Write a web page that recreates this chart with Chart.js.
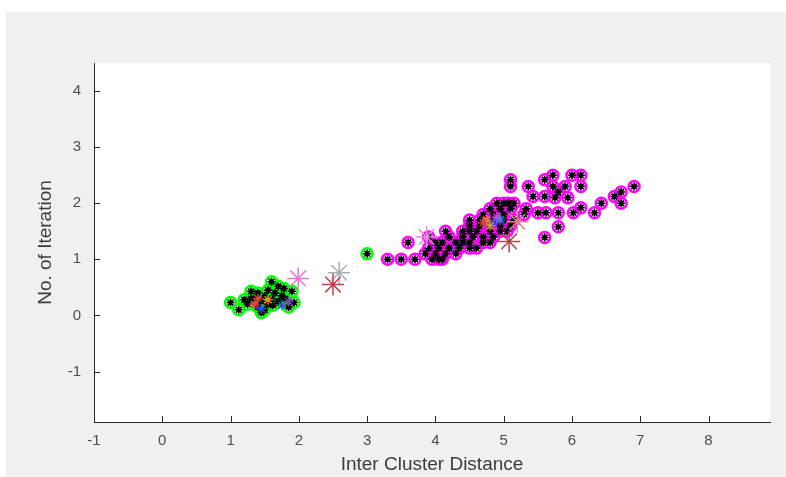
<!DOCTYPE html>
<html>
<head>
<meta charset="utf-8">
<script src="https://cdn.jsdelivr.net/npm/chart.js@4.4.0/dist/chart.umd.min.js"></script>
<style>
  html, body { margin: 0; padding: 0; background: #fff; }
  #wrap { position: relative; width: 786px; height: 477px; }
</style>
</head>
<body>
<div id="wrap"><canvas id="chart" width="786" height="477"></canvas></div>
<script>
// axis ticks
const xTicks = [-1, 0, 1, 2, 3, 4, 5, 6, 7, 8];
const yTicks = [-1, 0, 1, 2, 3, 4];

// cluster 1 (green)
const cluster1X = [1.0, 1.12, 1.3, 1.6, 1.7, 1.9, 1.93, 1.25, 1.35, 1.4, 1.45, 1.5, 1.55, 1.6, 1.65, 1.7, 1.75, 1.8, 1.5, 1.4, 1.55, 1.3, 1.85, 1.62, 1.45, 1.2, 1.78, 3.0];
const cluster1Y = [0.23, 0.1, 0.43, 0.6, 0.52, 0.43, 0.23, 0.2, 0.3, 0.15, 0.25, 0.35, 0.2, 0.3, 0.4, 0.25, 0.35, 0.3, 0.1, 0.4, 0.45, 0.3, 0.15, 0.18, 0.05, 0.28, 0.48, 1.1];

// cluster 2 (magenta)
const cluster2X = [3.3, 3.5, 3.7, 3.95, 4.05, 4.1,
  3.85, 4.0, 4.15, 4.3,
  3.9, 4.05, 4.2, 4.35, 4.5, 4.6,
  3.6, 4.0, 4.1, 4.3, 4.4, 4.5, 4.7, 4.8,
  3.9, 4.2, 4.4, 4.55, 4.7, 4.85, 5.6,
  4.15, 4.4, 4.5, 4.6, 4.8, 4.95, 5.05,
  4.5, 4.65, 4.8, 4.95, 5.1, 5.8,
  4.5, 4.65, 4.85, 5.0, 5.15,
  4.7, 4.85, 5.0, 5.3, 5.5, 5.62, 5.8, 6.02, 6.33,
  4.8, 4.95, 5.1, 5.33, 6.13,
  4.9, 5.0, 5.07, 5.15, 6.43, 6.72,
  5.43, 5.6, 5.75, 5.94, 6.62,
  5.8, 6.72,
  5.1, 5.36, 5.72, 5.9, 6.13, 6.91,
  5.1, 5.6,
  5.72, 6.0, 6.13];
const cluster2Y = [1.0, 1.0, 1.0, 1.0, 1.0, 1.0,
  1.1, 1.1, 1.1, 1.1,
  1.2, 1.2, 1.2, 1.2, 1.2, 1.2,
  1.3, 1.3, 1.3, 1.3, 1.3, 1.3, 1.3, 1.3,
  1.4, 1.4, 1.4, 1.4, 1.4, 1.4, 1.39,
  1.5, 1.5, 1.5, 1.5, 1.5, 1.5, 1.5,
  1.6, 1.6, 1.6, 1.6, 1.6, 1.58,
  1.7, 1.7, 1.7, 1.7, 1.7,
  1.8, 1.8, 1.8, 1.8, 1.83, 1.83, 1.83, 1.83, 1.83,
  1.9, 1.9, 1.9, 1.9, 1.92,
  2.0, 2.0, 2.0, 2.0, 2.0, 2.0,
  2.12, 2.12, 2.1, 2.1, 2.12,
  2.2, 2.2,
  2.3, 2.3, 2.3, 2.3, 2.3, 2.3,
  2.42, 2.42,
  2.5, 2.5, 2.5];

// centroid markers (large asterisks)
const centroidX = [1.99, 2.59, 2.5, 3.87, 5.08, 5.2];
const centroidY = [0.66, 0.76, 0.55, 1.4, 1.32, 1.67];
const centroidColors = ['#e27ad8', '#a7aeb4', '#b8444c', '#e88ae0', '#b8444c', '#d9868c'];

// small coloured asterisks inside the clusters
const trailX = [1.35, 1.45, 1.55, 1.75, 1.85, 1.4, 4.75, 4.85, 4.9, 4.8, 4.95, 4.7];
const trailY = [0.2, 0.12, 0.28, 0.18, 0.25, 0.3, 1.7, 1.65, 1.75, 1.6, 1.7, 1.65];
const trailColors = ['#e04040', '#3050e0', '#f09020', '#3050e0', '#8040c0', '#e04040', '#f09020', '#3050e0', '#e040e0', '#d0a020', '#3080f0', '#e04040'];

const toPoints = (xs, ys) => xs.map((x, i) => ({ x: x, y: ys[i] }));

const frame = {
  id: 'frame',
  beforeDraw(chart) {
    const ctx = chart.ctx;
    const a = chart.chartArea;
    ctx.save();
    ctx.fillStyle = '#ffffff';
    ctx.fillRect(0, 0, chart.width, chart.height);
    ctx.fillStyle = '#f0f0f0';
    ctx.fillRect(6, 12, chart.width - 6, chart.height - 12);
    ctx.fillStyle = '#ffffff';
    ctx.fillRect(a.left, a.top, a.right - a.left, a.bottom - a.top);
    ctx.restore();
  },
  afterDraw(chart) {
    // inward tick marks, MATLAB style
    const ctx = chart.ctx;
    const a = chart.chartArea;
    const xs = chart.scales.x, ys = chart.scales.y;
    ctx.save();
    ctx.strokeStyle = '#262626';
    ctx.lineWidth = 1;
    ctx.beginPath();
    xTicks.forEach(v => {
      const px = Math.round(xs.getPixelForValue(v)) + 0.5;
      ctx.moveTo(px, a.bottom);
      ctx.lineTo(px, a.bottom - 6);
    });
    yTicks.forEach(v => {
      const py = Math.round(ys.getPixelForValue(v)) + 0.5;
      ctx.moveTo(a.left, py);
      ctx.lineTo(a.left + 6, py);
    });
    ctx.stroke();
    ctx.restore();
  }
};

const tickFont = { family: "'Liberation Sans', Arial, sans-serif", size: 15 };
const titleFont = { family: "'Liberation Sans', Arial, sans-serif", size: 19 };

new Chart(document.getElementById('chart'), {
  type: 'scatter',
  data: {
    datasets: [
      {
        label: 'centroids',
        data: toPoints(centroidX, centroidY),
        pointStyle: 'star',
        radius: 11,
        borderWidth: 1.5,
        borderColor: centroidColors,
        backgroundColor: centroidColors
      },
      {
        label: 'trail',
        data: toPoints(trailX, trailY),
        pointStyle: 'star',
        radius: 5,
        borderWidth: 1.3,
        borderColor: trailColors,
        backgroundColor: trailColors
      },
      {
        label: 'cluster 1 stars',
        data: toPoints(cluster1X, cluster1Y),
        pointStyle: 'star',
        radius: 4,
        borderWidth: 1.6,
        borderColor: '#000000'
      },
      {
        label: 'cluster 2 stars',
        data: toPoints(cluster2X, cluster2Y),
        pointStyle: 'star',
        radius: 4,
        borderWidth: 1.6,
        borderColor: '#000000'
      },
      {
        label: 'cluster 1',
        data: toPoints(cluster1X, cluster1Y),
        pointStyle: 'circle',
        radius: 5.5,
        borderWidth: 2.5,
        borderColor: '#00ff00',
        backgroundColor: 'rgba(0,0,0,0)'
      },
      {
        label: 'cluster 2',
        data: toPoints(cluster2X, cluster2Y),
        pointStyle: 'circle',
        radius: 5.5,
        borderWidth: 2.5,
        borderColor: '#ff00ff',
        backgroundColor: 'rgba(0,0,0,0)'
      }
    ]
  },
  options: {
    responsive: false,
    animation: false,
    events: [],
    layout: { padding: { top: 63, right: 16, left: 0, bottom: 0 } },
    plugins: {
      legend: { display: false },
      tooltip: { enabled: false }
    },
    scales: {
      x: {
        type: 'linear',
        min: -1,
        max: 8.9,
        afterBuildTicks: s => { s.ticks = xTicks.map(v => ({ value: v })); },
        afterFit: s => { s.height = 55; },
        grid: { display: true, drawOnChartArea: false, drawTicks: false },
        border: { display: true, color: '#262626', width: 1 },
        ticks: { padding: 10, color: '#4d4d4d', font: tickFont, maxRotation: 0 },
        title: { display: true, text: 'Inter Cluster Distance', color: '#3c3c3c', font: titleFont, padding: { top: 0, bottom: 1 } }
      },
      y: {
        type: 'linear',
        min: -1.9,
        max: 4.5,
        afterBuildTicks: s => { s.ticks = yTicks.map(v => ({ value: v })); },
        afterFit: s => { s.width = 94; },
        grid: { display: true, drawOnChartArea: false, drawTicks: false },
        border: { display: true, color: '#262626', width: 1 },
        ticks: { padding: 13, color: '#4d4d4d', font: tickFont },
        title: { display: true, text: 'No. of Iteration', color: '#3c3c3c', font: titleFont, padding: { top: 34, bottom: 0 } }
      }
    }
  },
  plugins: [frame]
});
</script>
</body>
</html>
